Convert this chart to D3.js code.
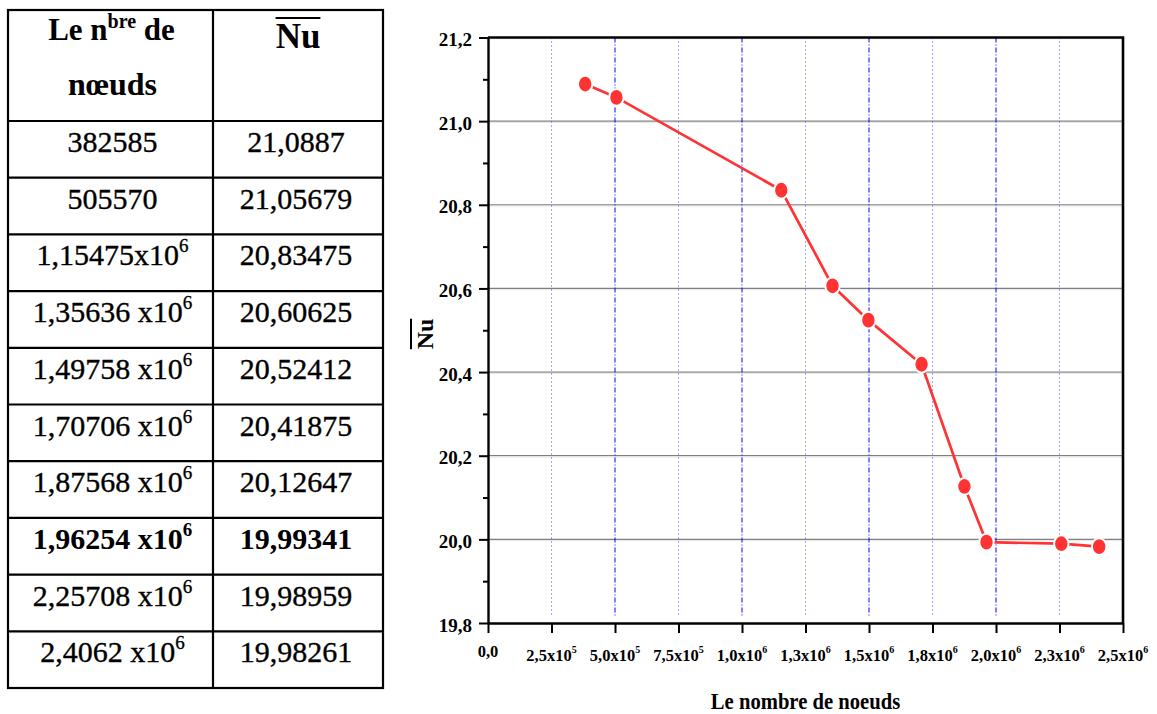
<!DOCTYPE html>
<html><head><meta charset="utf-8">
<script src="https://cdn.jsdelivr.net/npm/d3@7"></script>
<style>body{margin:0;background:#fff}svg{display:block}</style>
</head><body>
<svg id="c" width="1157" height="714"></svg>
<script>
// ---- data ----
const nodes = [382585, 505570, 1154750, 1356360, 1497580, 1707060, 1875680, 1962540, 2257080, 2406200];
const nu = [21.0887, 21.05679, 20.83475, 20.60625, 20.52412, 20.41875, 20.12647, 19.99341, 19.98959, 19.98261];
const tableNodeText = ["382585", "505570", "1,15475x10", "1,35636 x10", "1,49758 x10", "1,70706 x10", "1,87568 x10", "1,96254 x10", "2,25708 x10", "2,4062 x10"];
const tableNodeExp = ["", "", "6", "6", "6", "6", "6", "6", "6", "6"];
const tableNuText = ["21,0887", "21,05679", "20,83475", "20,60625", "20,52412", "20,41875", "20,12647", "19,99341", "19,98959", "19,98261"];
const boldRow = 7;
const xTicks = [0, 250000, 500000, 750000, 1000000, 1250000, 1500000, 1750000, 2000000, 2250000, 2500000];
const xTickMantissa = ["0,0", "2,5x10", "5,0x10", "7,5x10", "1,0x10", "1,3x10", "1,5x10", "1,8x10", "2,0x10", "2,3x10", "2,5x10"];
const xTickExp = ["", "5", "5", "5", "6", "6", "6", "6", "6", "6", "6"];
const xMajorGrid = [500000, 1000000, 1500000, 2000000];
const xMinorGrid = [250000, 750000, 1250000, 1750000, 2250000];
const yTicks = [19.8, 20.0, 20.2, 20.4, 20.6, 20.8, 21.0, 21.2];
const yTickLabels = ["19,8", "20,0", "20,2", "20,4", "20,6", "20,8", "21,0", "21,2"];
const yMinorTicks = [19.9, 20.1, 20.3, 20.5, 20.7, 20.9, 21.1];
const xTitle = "Le nombre de noeuds";
const yTitle = "Nu";

const svg = d3.select("#c");
const serif = "'Liberation Serif','Times New Roman',serif";

// ---- table ----
const T = {x0: 8, x1: 213, x2: 383, y0: 10, yH: 121, y1: 688};
const rowH = (T.y1 - T.yH) / tableNodeText.length;
const tbl = svg.append("g").attr("font-family", serif).attr("fill", "#000");
const rowYs = d3.range(tableNodeText.length + 1).map(i => T.yH + i * rowH);
tbl.append("rect").attr("x", T.x0).attr("y", T.y0).attr("width", T.x2 - T.x0).attr("height", T.y1 - T.y0)
  .attr("fill", "none").attr("stroke", "#000").attr("stroke-width", 2.2);
tbl.append("line").attr("x1", T.x1).attr("x2", T.x1).attr("y1", T.y0).attr("y2", T.y1).attr("stroke", "#000").attr("stroke-width", 2.2);
tbl.selectAll("line.row").data(rowYs.slice(0, -1)).join("line").attr("class", "row")
  .attr("x1", T.x0).attr("x2", T.x2).attr("y1", d => d).attr("y2", d => d).attr("stroke", "#000").attr("stroke-width", 2.2);
// header
const c1 = (T.x0 + T.x1) / 2 + 1, c2 = (T.x1 + T.x2) / 2;
const h1 = tbl.append("text").attr("x", c1).attr("y", 40).attr("text-anchor", "middle").attr("font-weight", "bold").attr("font-size", 31);
h1.append("tspan").text("Le n");
h1.append("tspan").attr("font-size", 20).attr("dy", -12).text("bre");
h1.append("tspan").attr("dy", 12).text(" de");
tbl.append("text").attr("x", c1 + 1).attr("y", 95).attr("text-anchor", "middle").attr("font-weight", "bold").attr("font-size", 32).text("nœuds");
const hn = tbl.append("text").attr("x", c2).attr("y", 48).attr("text-anchor", "middle").attr("font-weight", "bold").attr("font-size", 35).text(yTitle);
const hb = hn.node().getBBox();
tbl.append("line").attr("x1", hb.x).attr("x2", hb.x + hb.width).attr("y1", 18).attr("y2", 18).attr("stroke", "#000").attr("stroke-width", 2);
// rows
tableNodeText.forEach((t, i) => {
  const yb = rowYs[i] + 31;
  const bold = i === boldRow;
  const tx = tbl.append("text").attr("x", c1 + 1).attr("y", yb).attr("text-anchor", "middle").attr("font-size", 30)
    .attr("font-weight", bold ? "bold" : "normal").attr("stroke", bold ? "none" : "#000").attr("stroke-width", 0.35);
  tx.append("tspan").text(t);
  if (tableNodeExp[i]) tx.append("tspan").attr("font-size", 19).attr("dy", -13).text(tableNodeExp[i]);
  tbl.append("text").attr("x", c2 - 2).attr("y", yb).attr("text-anchor", "middle").attr("font-size", 30)
    .attr("font-weight", bold ? "bold" : "normal").attr("stroke", bold ? "none" : "#000").attr("stroke-width", 0.35)
    .text(tableNuText[i]);
});

// ---- chart ----
const P = {l: 488, r: 1123, t: 37.5, b: 623};
const x = d3.scaleLinear().domain([0, 2500000]).range([P.l, P.r]);
const y = d3.scaleLinear().domain([19.8, 21.2]).range([P.b, P.t]);
const g = svg.append("g");

// horizontal grid
g.selectAll("line.hg").data(yTicks.slice(1)).join("line").attr("class", "hg")
  .attr("x1", P.l).attr("x2", P.r).attr("y1", d => y(d)).attr("y2", d => y(d))
  .attr("stroke", "#808080").attr("stroke-width", 1.2);
g.selectAll("line.hg2").data(yTicks.slice(1)).join("line").attr("class", "hg2")
  .attr("x1", P.l).attr("x2", P.r).attr("y1", d => y(d) + 1.3).attr("y2", d => y(d) + 1.3)
  .attr("stroke", "#e6e6e6").attr("stroke-width", 1);
// vertical grid
g.selectAll("line.vmaj").data(xMajorGrid).join("line").attr("class", "vmaj")
  .attr("x1", d => x(d)).attr("x2", d => x(d)).attr("y1", P.t).attr("y2", P.b - 6)
  .attr("stroke", "#0000ff").attr("stroke-width", 1).attr("stroke-dasharray", "5,2,1,2");
g.selectAll("line.vmin").data(xMinorGrid).join("line").attr("class", "vmin")
  .attr("x1", d => x(d)).attr("x2", d => x(d)).attr("y1", P.t).attr("y2", P.b - 6)
  .attr("stroke", "#4444ff").attr("stroke-width", 1).attr("stroke-dasharray", "1,3");

// axes
const yAx = g.append("g").attr("transform", `translate(${P.l},0)`)
  .call(d3.axisLeft(y).tickValues(yTicks).tickSize(9).tickSizeOuter(0).tickFormat((d, i) => yTickLabels[i]));
const yMin = g.append("g").attr("transform", `translate(${P.l},0)`)
  .call(d3.axisLeft(y).tickValues(yMinorTicks).tickSize(5).tickSizeOuter(0).tickFormat(""));
yMin.select(".domain").remove();
const xAx = g.append("g").attr("transform", `translate(0,${P.b})`)
  .call(d3.axisBottom(x).tickValues(xTicks).tickSize(10).tickSizeOuter(0).tickFormat(""));
[yAx, yMin, xAx].forEach(a => {
  a.selectAll("line").attr("stroke", "#000").attr("stroke-width", 2);
  a.select(".domain").attr("stroke", "#000").attr("stroke-width", 2.4);
});
yAx.selectAll("text").attr("font-family", serif).attr("font-weight", "bold").attr("font-size", 19)
  .attr("fill", "#000").attr("x", -16).attr("dy", null).attr("y", 8);

// x tick labels with superscripts
xTicks.forEach((v, i) => {
  const t = g.append("text").attr("x", x(v)).attr("y", xTickExp[i] ? 661 : 657).attr("text-anchor", "middle")
    .attr("font-family", serif).attr("font-weight", "bold").attr("font-size", 16.5).attr("fill", "#000");
  t.append("tspan").text(xTickMantissa[i]);
  if (xTickExp[i]) t.append("tspan").attr("font-size", 10).attr("dy", -8).text(xTickExp[i]);
});

// frame top/right
g.append("path").attr("d", `M${P.l},${P.t}H${P.r}V${P.b}`).attr("fill", "none").attr("stroke", "#000").attr("stroke-width", 2.6);

// titles
g.append("text").attr("transform", `translate(${(P.l + P.r) / 2},709) scale(0.86,1)`).attr("text-anchor", "middle")
  .attr("font-family", serif).attr("font-weight", "bold").attr("font-size", 24).attr("fill", "#000").text(xTitle);
const yt = g.append("g").attr("transform", "translate(433,334) rotate(-90)");
const ytt = yt.append("text").attr("text-anchor", "middle").attr("font-family", serif).attr("font-weight", "bold")
  .attr("font-size", 24).attr("fill", "#000").text(yTitle);
const yb = ytt.node().getBBox();
yt.append("line").attr("x1", yb.x).attr("x2", yb.x + yb.width).attr("y1", -22).attr("y2", -22).attr("stroke", "#000").attr("stroke-width", 2);

// series
const pts = nodes.map((n, i) => [n, nu[i]]);
g.append("path").datum(pts).attr("fill", "none").attr("stroke", "#ff3333").attr("stroke-width", 2.7)
  .attr("d", d3.line().x(d => x(d[0])).y(d => y(d[1])));
g.selectAll("ellipse.m").data(pts).join("ellipse").attr("class", "m")
  .attr("cx", d => x(d[0])).attr("cy", d => y(d[1])).attr("rx", 7.2).attr("ry", 8.4)
  .attr("fill", "#ff3333").attr("stroke", "#fff").attr("stroke-width", 2);
</script>
</body></html>
